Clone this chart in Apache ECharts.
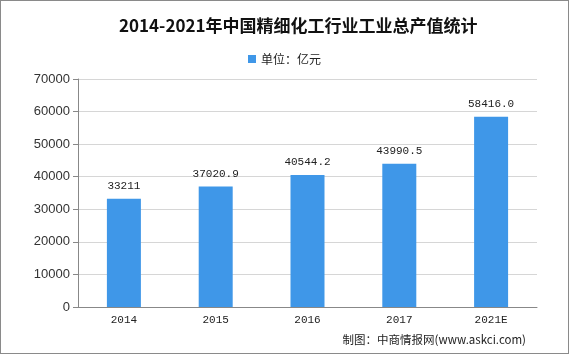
<!DOCTYPE html>
<html><head><meta charset="utf-8">
<script src="https://cdn.jsdelivr.net/npm/echarts@6/dist/echarts.min.js"></script>
<style>html,body{margin:0;padding:0;background:#fff;}#c{width:567px;height:352px;border:1px solid #8a8a8a;}</style>
</head><body><div id="c"></div>
<script>
var categories = ['2014','2015','2016','2017','2021E'];
var values = [33211, 37020.9, 40544.2, 43990.5, 58416.0];
var valueLabels = ['33211','37020.9','40544.2','43990.5','58416.0'];
var yTicks = [0,10000,20000,30000,40000,50000,60000,70000];

var chart = echarts.init(document.getElementById('c'));
chart.setOption({
  animation:false,
  title:{text:'2014-2021年中国精细化工行业工业总产值统计',left:113,top:11,
    textStyle:{fontFamily:'Noto Sans CJK SC',fontWeight:'bold',fontSize:17,color:'#111'}},
  legend:{data:['单位：亿元'],top:47,left:'center',itemWidth:8,itemHeight:8,itemGap:2,
    icon:'rect',textStyle:{fontFamily:'Noto Sans CJK SC',fontSize:12,color:'#222'}},
  grid:{left:77,right:31,top:78,bottom:46},
  xAxis:{type:'category',data:categories,
    axisLine:{lineStyle:{color:'#888'}},
    axisTick:{alignWithLabel:false,length:5,lineStyle:{color:'#888'}},
    axisLabel:{fontFamily:'Liberation Mono',fontSize:11,color:'#222',margin:8}},
  yAxis:{type:'value',min:yTicks[0],max:yTicks[yTicks.length-1],interval:10000,
    axisLine:{show:true,lineStyle:{color:'#888'}},
    axisTick:{show:true,length:5,lineStyle:{color:'#888'}},
    axisLabel:{fontFamily:'Liberation Sans',fontSize:13,color:'#333',margin:8,
      formatter:function(v){return String(v);}},
    splitLine:{lineStyle:{color:'#d6d6d6'}}},
  series:[{name:'单位：亿元',type:'bar',data:values,barWidth:34,
    itemStyle:{color:'#3f97e8'},
    label:{show:true,position:'top',distance:7,fontFamily:'Liberation Mono',fontSize:11,color:'#222',
      formatter:function(p){return valueLabels[p.dataIndex];}}}],
  graphic:[{type:'text',right:42,top:333,style:{text:'制图：中商情报网(www.askci.com)',
    font:'11.5px "Noto Sans CJK SC"',fill:'#222'}}]
});
</script></body></html>
